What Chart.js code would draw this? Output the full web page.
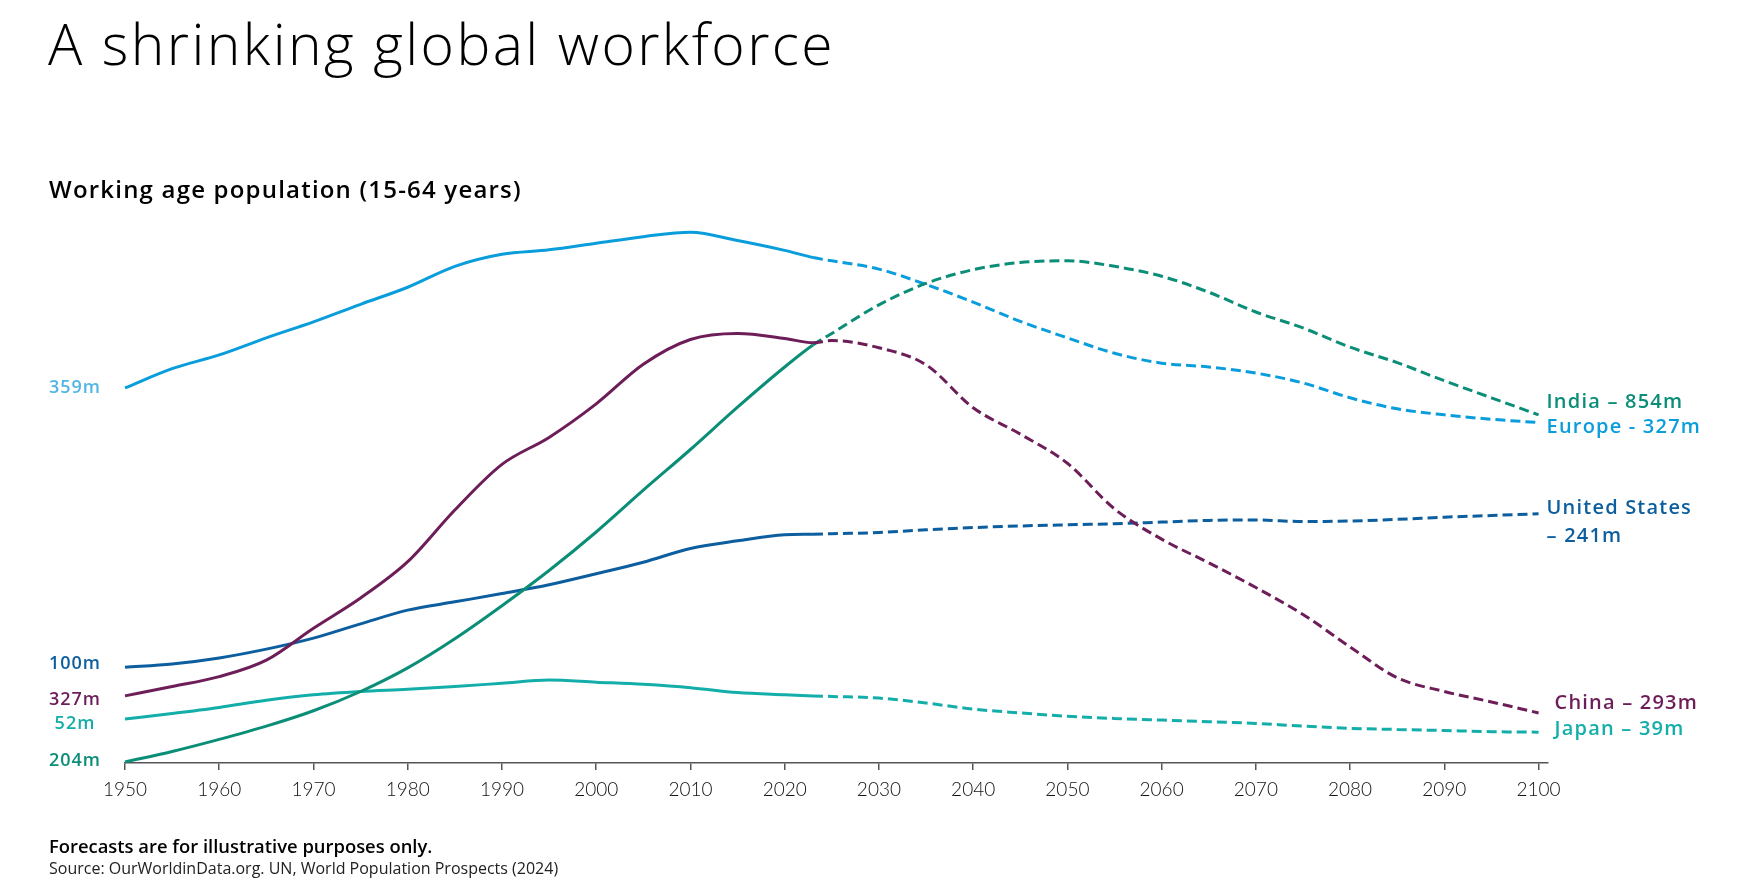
<!DOCTYPE html>
<html>
<head>
<meta charset="utf-8">
<script src="https://cdn.jsdelivr.net/npm/chart.js@4.4.1/dist/chart.umd.min.js"></script>
<style>
  body { margin: 0; background: #fff; font-family: "Open Sans", Lato, sans-serif; }
  #wrap { position: relative; width: 1759px; height: 884px; overflow: hidden; }
  #chartBox { position: absolute; left: 0; top: 0; width: 1759px; height: 884px; }
  .txt { position: absolute; line-height: 1; white-space: nowrap; color: #000; }
  #title { left: 48px; top: 15px; font-size: 57px; font-weight: 300; letter-spacing: 2.4px; }
  #subtitle { left: 49px; top: 177px; font-size: 24px; font-weight: 600; letter-spacing: 1.2px; }
  #note { left: 49px; top: 837px; font-size: 18.4px; font-weight: 600; }
  #source { left: 49px; top: 860px; font-size: 16px; font-weight: 400; color: #222; }
  .lab { position: absolute; white-space: nowrap; font-weight: 600; line-height: 1.4; }
</style>
</head>
<body>
<div id="wrap">
  <div id="chartBox"><canvas id="lineChart"></canvas></div>
  <div class="txt" id="title">A shrinking global workforce</div>
  <div class="txt" id="subtitle">Working age population (15-64 years)</div>
  <div class="txt" id="note">Forecasts are for illustrative purposes only.</div>
  <div class="txt" id="source">Source: OurWorldinData.org. UN, World Population Prospects (2024)</div>
</div>
<script>
// years (2023 = last actual value, forecasts after)
const years = [1950, 1955, 1960, 1965, 1970, 1975, 1980, 1985, 1990, 1995, 2000, 2005, 2010, 2015, 2020,
  2023, 2025, 2030, 2035, 2040, 2045, 2050, 2055, 2060, 2065, 2070, 2075, 2080, 2085, 2090, 2095, 2100];

// relative level of each line in the plot (0 = axis, 100 = top)
const china = [12.2, 13.9, 15.7, 18.7, 24.5, 30.0, 36.6, 46.0, 54.3, 59.2, 65.3, 72.5, 77.0, 78.1, 77.2,
  76.4, 76.8, 75.5, 72.4, 64.6, 59.8, 54.5, 46.2, 40.7, 36.4, 31.9, 27.0, 21.1, 15.5, 13.0, 11.1, 9.1];
const india = [0.2, 2.1, 4.3, 6.7, 9.5, 13.0, 17.3, 22.6, 28.6, 35.0, 42.0, 49.6, 57.0, 64.7, 72.0,
  76.0, 78.1, 83.3, 87.2, 89.7, 91.0, 91.3, 90.3, 88.5, 85.6, 82.0, 79.1, 75.6, 72.8, 69.5, 66.4, 63.3];
const europe = [68.2, 71.7, 74.2, 77.3, 80.2, 83.4, 86.5, 90.3, 92.5, 93.3, 94.5, 95.7, 96.5, 95.0, 93.2,
  91.9, 91.3, 89.8, 87.0, 83.8, 80.3, 77.3, 74.5, 72.7, 72.0, 70.9, 69.1, 66.4, 64.4, 63.3, 62.5, 61.9];
const unitedStates = [17.4, 18.0, 19.1, 20.7, 22.7, 25.3, 27.8, 29.3, 30.8, 32.4, 34.4, 36.5, 39.0, 40.4, 41.5,
  41.6, 41.7, 41.9, 42.4, 42.8, 43.1, 43.3, 43.5, 43.8, 44.1, 44.2, 43.9, 44.0, 44.3, 44.7, 45.0, 45.3];
const japan = [8.0, 9.0, 10.1, 11.4, 12.4, 13.0, 13.4, 13.9, 14.5, 15.1, 14.7, 14.3, 13.7, 12.8, 12.4,
  12.2, 12.1, 11.8, 10.9, 9.8, 9.1, 8.5, 8.1, 7.8, 7.5, 7.2, 6.7, 6.3, 6.1, 5.9, 5.7, 5.6];

const startLabels = ['327m', '204m', '359m', '100m', '52m'];
const endLabels = ['China – 293m', 'India – 854m', 'Europe - 327m', 'United States<br>– 241m', 'Japan – 39m'];
const forecastFrom = 2023;

const series = [china, india, europe, unitedStates, japan];
const colors = ['#6d1d57', '#0b8e77', '#0a9ddc', '#0c5e9e', '#13aeaa'];
const startColors = ['#6d1d57', '#0b8e77', '#52b6e4', '#0c5e9e', '#13aeaa'];
// label nudges (px) so the texts sit like in the original
const startDy = [2.6, -1.7, -1, -4, 4.3];
const endDx = [16, 8, 8, 8, 16];
const endDy = [-11.3, -14.3, 3.7, 7, -4];

const ctx = document.getElementById('lineChart').getContext('2d');
const chart = new Chart(ctx, {
  type: 'line',
  data: {
    datasets: series.map((vals, i) => ({
      data: years.map((y, j) => ({ x: y, y: vals[j] })),
      borderColor: colors[i],
      borderWidth: 3,
      clip: false,
      segment: {
        borderDash: c => c.p0.parsed.x >= forecastFrom ? [10, 5] : undefined
      }
    }))
  },
  options: {
    responsive: true,
    maintainAspectRatio: false,
    animation: false,
    layout: { padding: { left: 125, right: 211, top: 213, bottom: 81 } },
    plugins: { legend: { display: false }, tooltip: { enabled: false } },
    elements: {
      point: { radius: 0 },
      line: { cubicInterpolationMode: 'monotone', borderCapStyle: 'butt' }
    },
    scales: {
      x: {
        type: 'linear',
        min: 1950,
        max: 2101,
        afterFit: s => { s.height = 40; },
        border: { display: true, color: '#555', width: 1.5 },
        grid: { display: true, drawOnChartArea: false, drawTicks: true, tickLength: 7, color: '#555', lineWidth: 1.5 },
        ticks: {
          stepSize: 10,
          includeBounds: false,
          maxRotation: 0,
          padding: 8,
          color: '#111',
          font: { family: 'Lato', size: 19, weight: '300' },
          callback: v => String(v)
        }
      },
      y: { display: false, min: 0, max: 100 }
    }
  }
});

// start and end labels placed from the chart's own scales
const wrap = document.getElementById('wrap');
const xs = chart.scales.x, ys = chart.scales.y;
series.forEach((vals, i) => {
  const a = document.createElement('div');
  a.className = 'lab';
  a.style.color = startColors[i];
  a.style.fontSize = '18px';
  a.style.letterSpacing = '1px';
  a.style.left = (xs.left - 50) + 'px';
  a.style.top = (ys.getPixelForValue(vals[0]) + startDy[i]) + 'px';
  a.style.transform = 'translate(-50%, -50%)';
  a.textContent = startLabels[i];
  wrap.appendChild(a);

  const b = document.createElement('div');
  b.className = 'lab';
  b.style.color = colors[i];
  b.style.fontSize = '20px';
  b.style.letterSpacing = '1.2px';
  b.style.left = (xs.getPixelForValue(years[years.length - 1]) + endDx[i]) + 'px';
  b.style.top = (ys.getPixelForValue(vals[vals.length - 1]) + endDy[i]) + 'px';
  b.style.transform = 'translateY(-50%)';
  b.innerHTML = endLabels[i];
  wrap.appendChild(b);
});
</script>
</body>
</html>
